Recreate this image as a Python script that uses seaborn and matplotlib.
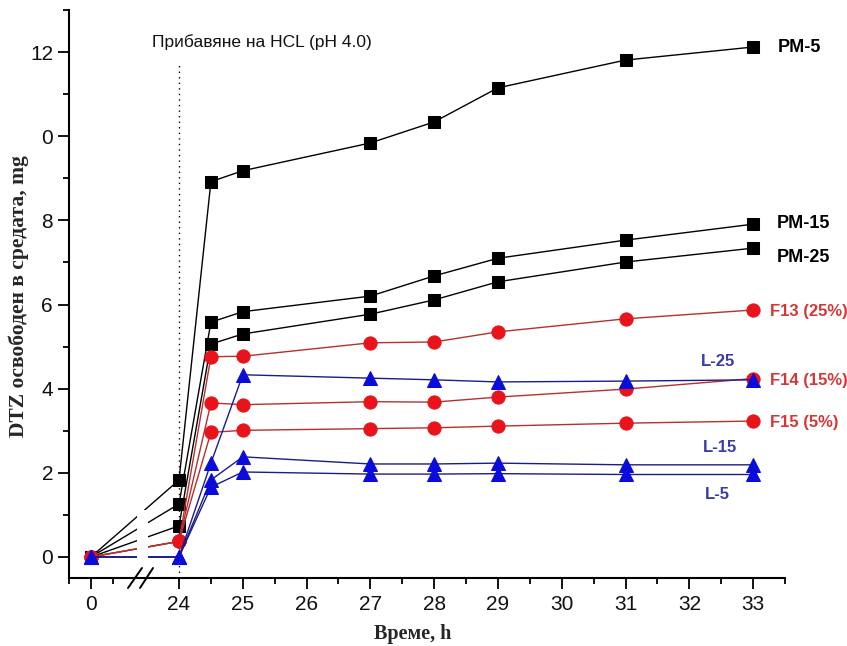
import numpy as np
import matplotlib
matplotlib.use("Agg")
import matplotlib.pyplot as plt
import seaborn as sns
from matplotlib import font_manager

# ---------------- data ----------------
times = [0, 24, 24.5, 25, 27, 28, 29, 31, 33]
pm5 = [0, 1.83, 8.92, 9.18, 9.84, 10.34, 11.15, 11.81, 12.12]
pm15 = [0, 1.26, 5.58, 5.83, 6.20, 6.68, 7.10, 7.53, 7.91]
pm25 = [0, 0.74, 5.06, 5.30, 5.77, 6.11, 6.54, 7.01, 7.34]
f13 = [0, 0.37, 4.76, 4.77, 5.09, 5.11, 5.35, 5.66, 5.87]
f14 = [0, 0.37, 3.66, 3.62, 3.69, 3.68, 3.80, 3.99, 4.24]
f15 = [0, 0.37, 2.96, 3.01, 3.05, 3.07, 3.11, 3.18, 3.23]
l25 = [0, 0, 2.23, 4.33, 4.25, 4.21, 4.16, 4.18, 4.21]
l15 = [0, 0, 1.83, 2.38, 2.21, 2.21, 2.23, 2.19, 2.19]
l5 = [0, 0, 1.66, 2.02, 1.97, 1.97, 1.98, 1.96, 1.96]

series_names = ["PM-5", "PM-15", "PM-25", "F13 (25%)", "F14 (15%)", "F15 (5%)", "L-25", "L-15", "L-5"]
series_vals = [pm5, pm15, pm25, f13, f14, f15, l25, l15, l5]

x_major = [0, 24, 25, 26, 27, 28, 29, 30, 31, 32, 33]
x_minor = [-0.5, 0.5, 24.5, 25.5, 26.5, 27.5, 28.5, 29.5, 30.5, 31.5, 32.5, 33.5]
y_major = [0, 2, 4, 6, 8, 10, 12]
y_major_labels = ["0", "2", "4", "6", "8", "0", "12"]
y_minor = [1, 3, 5, 7, 9, 11, 13]

annot_text = "Прибавяне на HCL (pH 4.0)"
xlabel = "Време, h"
ylabel = "DTZ освободен в средата, mg"

# ---------------- broken x scale ----------------
X0 = 22.62
LEFT_SCALE = 44 / 63.8


def xpos(t):
    t = np.asarray(t, dtype=float)
    return np.where(t >= 24, t, X0 + t * LEFT_SCALE)


# ---------------- style ----------------
sns.set_theme(style="white")
plt.rcParams["font.family"] = ["Liberation Sans", "DejaVu Sans"]

installed = {f.name for f in font_manager.fontManager.ttflist}
narrow = "Liberation Sans Narrow" if "Liberation Sans Narrow" in installed else "Liberation Sans"

fig = plt.figure(figsize=(8.47, 6.46), dpi=100)
ax = fig.add_axes([69 / 847, 68 / 646, (785 - 69) / 847, (578 - 10) / 646])

black_kw = dict(color="black", marker="s", markersize=8.5, markerfacecolor="black",
                markeredgecolor="black", linewidth=1.0)
red_kw = dict(color="#b5302f", marker="o", markersize=9.5, markerfacecolor="#e8131b",
              markeredgecolor="#e8131b", linewidth=1.0)
blue_kw = dict(color="#1c1c86", marker="^", markersize=10, markerfacecolor="#0b0bdc",
               markeredgecolor="#0b0bdc", linewidth=1.0)
styles = [black_kw] * 3 + [red_kw] * 3 + [blue_kw] * 3

xp = xpos(times)
for name, vals, kw in zip(series_names, series_vals, styles):
    sns.lineplot(x=xp, y=vals, ax=ax, sort=False, estimator=None, legend=False, zorder=3, **kw)

# gap in lines across the axis break
ax.axvspan(24 - 42 / 63.8, 24 - 31 / 63.8, ymin=0.02, ymax=0.12, color="white", zorder=4, lw=0)

# dotted HCL addition line
ax.plot([24, 24], [-0.5, 11.76], linestyle=(0, (1, 3)), color="black", linewidth=1.0, zorder=2)
ax.text(25.3, 12.24, annot_text, ha="center", va="center", fontsize=12.5, family=narrow,
        color="#111111")

# series labels
label_specs = [
    ("PM-5", pm5[-1], (25, 0), "black", 13, "left"),
    ("PM-15", pm15[-1], (24, 1), "black", 13, "left"),
    ("PM-25", pm25[-1], (24, -9), "black", 13, "left"),
    ("F13 (25%)", f13[-1], (17, -2), "#d23838", 12, "left"),
    ("F14 (15%)", f14[-1], (17, -2), "#d23838", 12, "left"),
    ("F15 (5%)", f15[-1], (17, -1), "#d23838", 12, "left"),
    ("L-25", l25[-1], (-35, 18), "#3b3ba6", 12, "center"),
    ("L-15", l15[-1], (-33, 17), "#3b3ba6", 12, "center"),
    ("L-5", l5[-1], (-36, -20), "#3b3ba6", 12, "center"),
]
for txt, yv, off, col, fs, ha in label_specs:
    ax.annotate(txt, xy=(33, yv), xytext=off, textcoords="offset pixels",
                ha=ha, va="center", color=col, fontsize=fs, fontweight="bold")

# axes limits and ticks
ax.set_xlim(float(xpos(-0.5)), 33.5)
ax.set_ylim(-0.5, 13)
ax.set_xticks(xpos(x_major))
ax.set_xticklabels([str(v) for v in x_major])
ax.set_xticks(xpos(x_minor), minor=True)
ax.set_yticks(y_major)
ax.set_yticklabels(y_major_labels)
ax.set_yticks(y_minor, minor=True)
ax.tick_params(axis="both", which="major", direction="out", length=8, width=1.3,
               labelsize=15, color="black", labelcolor="#111111", bottom=True, left=True)
ax.tick_params(axis="both", which="minor", direction="out", length=4.5, width=1.3,
               color="black", bottom=True, left=True)
ax.tick_params(axis="x", which="major", pad=4)

for side in ["top", "right"]:
    ax.spines[side].set_visible(False)
for side in ["left", "bottom"]:
    ax.spines[side].set_linewidth(1.5)
    ax.spines[side].set_color("black")

# break marks on x-axis
for x1, x2 in [((128 - 69) / 716, (142 - 69) / 716), ((140 - 69) / 716, (153 - 69) / 716)]:
    ax.plot([x1, x2], [-10 / 568, 10 / 568], transform=ax.transAxes, color="black",
            linewidth=1.4, clip_on=False, zorder=6)

ax.set_xlabel(xlabel, fontsize=14.5, fontweight="bold", family="Liberation Serif")
ax.set_ylabel(ylabel, fontsize=15.5, fontweight="bold", family="Liberation Serif")
ax.xaxis.label.set_verticalalignment("center")
ax.yaxis.label.set_verticalalignment("center")
ax.xaxis.set_label_coords((413 - 69) / 716, -(634 - 578) / 568)
ax.yaxis.set_label_coords(-(69 - 19) / 716, 0.496)

fig.savefig("out.png", dpi=100)
